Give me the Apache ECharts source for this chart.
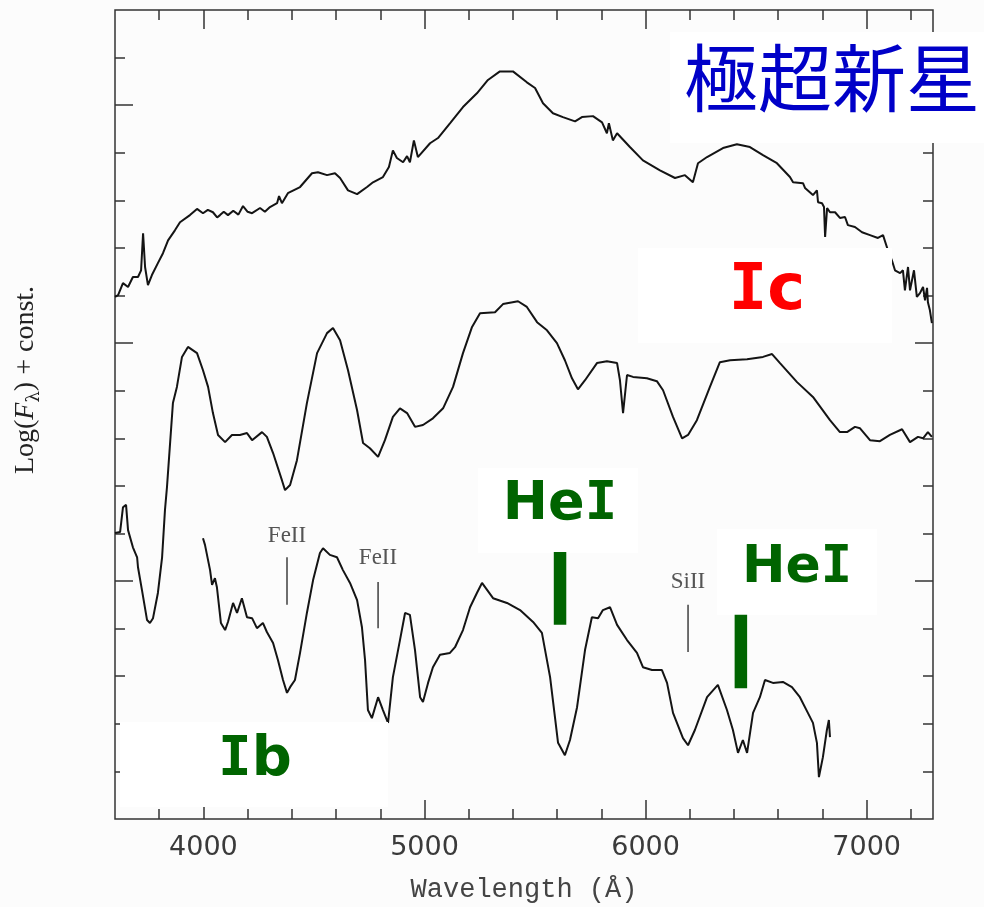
<!DOCTYPE html>
<html>
<head>
<meta charset="utf-8">
<script src="https://cdn.jsdelivr.net/npm/echarts@6/dist/echarts.min.js"></script>
<style>
html,body{margin:0;padding:0;background:#fcfcfc;}
#chart{width:984px;height:907px;}
</style>
</head>
<body>
<div id="chart"></div>
<script>
// ---- Data (wavelength in Å, log flux + const in tick units) ----
const hnWave = [3600,3614,3636,3659,3681,3704,3718,3727,3736,3749,3767,3794,3817,3840,3871,3894,3939,3971,3998,4020,4043,4062,4075,4092,4111,4135,4158,4179,4200,4220,4256,4278,4301,4333,4342,4355,4382,4437,4491,4518,4559,4595,4618,4654,4695,4740,4767,4812,4839,4857,4875,4903,4921,4934,4952,4970,5025,5061,5115,5174,5237,5287,5341,5400,5463,5500,5536,5581,5626,5681,5712,5762,5803,5825,5834,5852,5871,5929,5988,6065,6133,6178,6214,6237,6278,6350,6413,6472,6531,6594,6653,6667,6712,6721,6757,6775,6780,6798,6807,6812,6821,6834,6857,6879,6902,6915,6947,6979,7015,7051,7074,7096,7114,7128,7151,7164,7173,7187,7196,7214,7227,7241,7255,7264,7273,7277,7286,7295];
const hnFlux = [10.97,11.01,11.26,11.18,11.39,11.39,11.53,12.31,11.60,11.22,11.43,11.68,11.89,12.16,12.37,12.54,12.69,12.82,12.73,12.80,12.75,12.64,12.69,12.76,12.69,12.78,12.70,12.88,12.76,12.73,12.84,12.76,12.86,12.94,13.09,12.94,13.15,13.28,13.57,13.59,13.53,13.57,13.47,13.21,13.13,13.28,13.38,13.49,13.70,14.05,13.89,13.80,13.93,13.80,14.26,13.91,14.20,14.31,14.62,14.96,15.25,15.53,15.71,15.71,15.48,15.36,15.04,14.83,14.75,14.66,14.75,14.77,14.64,14.41,14.62,14.26,14.41,14.12,13.84,13.63,13.47,13.53,13.38,13.78,13.91,14.10,14.18,14.12,13.95,13.78,13.49,13.38,13.36,13.26,13.11,13.21,12.96,12.94,12.86,12.23,12.84,12.75,12.75,12.63,12.65,12.48,12.44,12.33,12.27,12.21,12.27,11.95,11.74,11.53,11.47,11.53,11.11,11.60,11.11,11.53,10.97,11.05,11.18,10.90,11.16,10.86,10.69,10.42];

const icWave = [3600,3623,3636,3650,3659,3681,3700,3704,3722,3745,3758,3772,3794,3813,3826,3835,3862,3880,3903,3930,3971,3998,4021,4043,4066,4098,4129,4165,4197,4220,4265,4287,4315,4355,4369,4392,4423,4468,4514,4559,4586,4618,4654,4695,4722,4753,4790,4821,4857,4889,4921,4957,4993,5038,5084,5129,5174,5215,5251,5319,5355,5423,5463,5509,5554,5599,5635,5667,5694,5726,5780,5825,5871,5884,5898,5916,5943,6006,6051,6079,6124,6165,6192,6232,6291,6336,6382,6459,6531,6572,6608,6685,6757,6834,6879,6911,6947,6970,7015,7060,7105,7160,7196,7232,7255,7277,7295];
const icFlux = [6.01,6.03,6.55,6.60,6.07,5.71,5.50,5.29,4.81,4.18,4.12,4.22,4.75,5.50,6.49,6.97,8.74,9.08,9.71,9.92,9.79,9.43,9.08,8.53,8.07,7.92,8.07,8.07,8.11,7.96,8.13,8.03,7.69,7.12,6.91,7.02,7.54,8.74,9.79,10.21,10.32,10.06,9.43,8.59,7.90,7.79,7.61,7.96,8.45,8.63,8.53,8.24,8.28,8.42,8.63,9.08,9.79,10.34,10.63,10.65,10.82,10.88,10.76,10.44,10.27,10.00,9.64,9.26,9.03,9.22,9.58,9.62,9.58,9.22,8.53,9.33,9.29,9.26,9.20,9.01,8.45,8.00,8.07,8.38,9.08,9.60,9.64,9.66,9.71,9.77,9.58,9.18,8.87,8.38,8.13,8.13,8.24,8.21,7.96,7.94,8.07,8.19,7.92,8.03,8.00,8.13,8.03];

const ibWave = [3998,4007,4030,4039,4052,4061,4079,4098,4111,4134,4152,4174,4197,4220,4242,4269,4287,4315,4337,4360,4378,4392,4414,4437,4468,4496,4527,4541,4572,4604,4631,4663,4695,4717,4731,4744,4762,4790,4812,4835,4857,4889,4912,4934,4957,4980,4993,5016,5038,5070,5115,5138,5174,5206,5237,5260,5310,5373,5432,5491,5531,5568,5590,5604,5635,5658,5690,5726,5757,5785,5807,5839,5871,5916,5961,5988,6029,6074,6097,6124,6169,6192,6223,6278,6327,6368,6395,6418,6440,6459,6486,6517,6540,6576,6621,6662,6698,6734,6757,6775,6784,6802,6820,6829,6834];
const ibFlux = [5.90,5.76,5.23,4.92,5.06,4.87,4.12,3.97,4.14,4.54,4.33,4.64,4.24,4.22,4.01,4.12,3.93,3.70,3.34,2.92,2.65,2.77,2.92,3.49,4.33,5.02,5.59,5.69,5.55,5.50,5.23,4.96,4.60,4.03,3.34,2.29,2.12,2.56,2.29,2.02,2.98,3.76,4.33,4.29,3.55,2.56,2.46,2.86,3.19,3.45,3.49,3.61,3.97,4.45,4.75,4.96,4.64,4.54,4.39,4.14,3.91,2.98,2.14,1.60,1.34,1.66,2.35,3.55,4.24,4.22,4.39,4.45,4.08,3.76,3.49,3.19,3.13,3.13,2.86,2.23,1.70,1.55,1.87,2.56,2.82,2.29,1.87,1.39,1.66,1.39,2.23,2.56,2.92,2.86,2.88,2.77,2.56,2.23,2.02,1.60,0.88,1.30,1.87,2.08,1.72];

// line identification marks: wavelength, lower end, upper end
const thinMarkWave = [4378, 4790, 6192];
const thinMarkLow  = [4.50, 4.01, 3.51];
const thinMarkHigh = [5.50, 4.98, 4.50];
const heMarkWave = [5613, 6431];
const heMarkLow  = [4.08, 2.75];
const heMarkHigh = [5.61, 4.29];

// axis ticks
const xMajorTicks = [4000, 5000, 6000, 7000];
const xMinorTicks = [3800,4200,4400,4600,4800,5200,5400,5600,5800,6200,6400,6600,6800,7200];
const yMajorTicks = [5, 10, 15];
const yMinorTicks = [1,2,3,4,6,7,8,9,11,12,13,14,16];

const X_MIN = 3600, X_MAX = 7300, Y_MIN = 0, Y_MAX = 17;

function zip(a, b) { const n = Math.min(a.length, b.length); const r = []; for (let i = 0; i < n; i++) r.push([a[i], b[i]]); return r; }

const axisCol = '#333';
function xAx(pos, ticks, len, labels) {
  return {
    type: 'value', min: X_MIN, max: X_MAX, position: pos,
    axisLine: { show: false, onZero: false },
    splitLine: { show: false },
    axisTick: { show: true, inside: true, length: len, customValues: ticks, lineStyle: { color: axisCol, width: 1.5 } },
    axisLabel: labels ? { show: true, customValues: ticks, margin: 15, color: '#3a3a3a', fontSize: 27, fontFamily: 'DejaVu Sans',
      formatter: function (v) { return String(v); } } : { show: false }
  };
}
function yAx(pos, ticks, len) {
  return {
    type: 'value', min: Y_MIN, max: Y_MAX, position: pos,
    axisLine: { show: false, onZero: false },
    splitLine: { show: false },
    axisTick: { show: true, inside: true, length: len, customValues: ticks, lineStyle: { color: axisCol, width: 1.5 } },
    axisLabel: { show: false }
  };
}

const spectrumStyle = { color: '#141414', width: 2 };
const series = [
  { type: 'line', data: zip(hnWave, hnFlux) },
  { type: 'line', data: zip(icWave, icFlux) },
  { type: 'line', data: zip(ibWave, ibFlux) }
].map(s => Object.assign(s, { showSymbol: false, symbol: 'none', lineStyle: spectrumStyle, silent: true, z: 3 }));

for (let i = 0; i < thinMarkWave.length; i++) {
  series.push({ type: 'line', data: [[thinMarkWave[i], thinMarkLow[i]], [thinMarkWave[i], thinMarkHigh[i]]],
    symbol: 'none', lineStyle: { color: '#4a4a4a', width: 1.6 }, silent: true, z: 3 });
}
for (let i = 0; i < heMarkWave.length; i++) {
  series.push({ type: 'line', data: [[heMarkWave[i], heMarkLow[i]], [heMarkWave[i], heMarkHigh[i]]],
    symbol: 'none', lineStyle: { color: '#006400', width: 12.5, cap: 'butt' }, silent: true, z: 120 });
}

function box(x, y, w, h) { return { type: 'rect', z: 100, shape: { x: x, y: y, width: w, height: h }, style: { fill: '#ffffff' }, silent: true }; }
function label(x, y, text, style) { return { type: 'text', z: 110, x: x, y: y, style: Object.assign({ text: text, align: 'center', verticalAlign: 'middle' }, style), silent: true }; }

const smallLab = { fontFamily: 'Liberation Serif', fontSize: 23, fill: '#555' };
const boldGreen = { fill: '#006400', fontWeight: 'bold', fontFamily: 'DejaVu Sans' };

const chart = echarts.init(document.getElementById('chart'), null, { renderer: 'canvas' });
chart.setOption({
  backgroundColor: '#fcfcfc',
  animation: false,
  grid: { left: 115, right: 51, top: 10, bottom: 88, containLabel: false, outerBoundsMode: 'none',
    show: true, borderColor: axisCol, borderWidth: 1.5, backgroundColor: 'transparent' },
  xAxis: [
    Object.assign(xAx('bottom', xMajorTicks, 19, true), {
      name: 'Wavelength (Å)', nameLocation: 'middle', nameGap: 57,
      nameTextStyle: { fontFamily: 'Liberation Mono', fontSize: 27, color: '#444' }
    }),
    xAx('bottom', xMinorTicks, 10, false),
    xAx('top', xMajorTicks, 19, false),
    xAx('top', xMinorTicks, 10, false)
  ],
  yAxis: [
    yAx('left', yMajorTicks, 18),
    yAx('left', yMinorTicks, 10),
    yAx('right', yMajorTicks, 18),
    yAx('right', yMinorTicks, 10)
  ],
  series: series,
  graphic: [
    box(670, 32, 314, 111),
    label(832, 78, '極超新星', { fontFamily: 'Noto Sans CJK JP', fontSize: 74, fill: '#0000c8' }),
    box(638, 248, 254, 95),
    {
      type: 'text', z: 110, x: 767, y: 292, silent: true,
      style: { text: '{a|I}{b|c}', align: 'center', verticalAlign: 'middle',
        rich: { a: { fontFamily: 'DejaVu Sans Mono', fontWeight: 'bold', fontSize: 64, fill: '#ff0000' },
                b: { fontFamily: 'DejaVu Sans', fontWeight: 'bold', fontSize: 64, fill: '#ff0000' } } }
    },
    box(478, 468, 160, 85),
    {
      type: 'text', z: 110, x: 560, y: 505, silent: true,
      style: { text: '{a|He}{b|I}', align: 'center', verticalAlign: 'middle',
        rich: { a: Object.assign({ fontSize: 54 }, boldGreen), b: Object.assign({}, boldGreen, { fontSize: 54, fontFamily: 'DejaVu Sans Mono' }) } }
    },
    box(717, 529, 160, 86),
    {
      type: 'text', z: 110, x: 797, y: 568, silent: true,
      style: { text: '{a|He}{b|I}', align: 'center', verticalAlign: 'middle',
        rich: { a: Object.assign({ fontSize: 52 }, boldGreen), b: Object.assign({}, boldGreen, { fontSize: 52, fontFamily: 'DejaVu Sans Mono' }) } }
    },
    box(120, 722, 268, 85),
    {
      type: 'text', z: 110, x: 255, y: 760, silent: true,
      style: { text: '{b|I}{a|b}', align: 'center', verticalAlign: 'middle',
        rich: { a: Object.assign({ fontSize: 56 }, boldGreen), b: Object.assign({}, boldGreen, { fontSize: 56, fontFamily: 'DejaVu Sans Mono' }) } }
    },
    label(287, 536, 'FeII', smallLab),
    label(378, 558, 'FeII', smallLab),
    label(688, 582, 'SiII', smallLab),
    {
      type: 'text', z: 110, x: 26, y: 380, rotation: Math.PI / 2, silent: true,
      style: { text: '{a|Log(}{i|F}{s|λ}{a|) + const.}', align: 'center', verticalAlign: 'middle',
        rich: {
          a: { fontFamily: 'Liberation Serif', fontSize: 28, fill: '#222', lineHeight: 34 },
          i: { fontFamily: 'Liberation Serif', fontStyle: 'italic', fontSize: 28, fill: '#222', lineHeight: 34 },
          s: { fontFamily: 'DejaVu Serif', fontSize: 18, fill: '#222', lineHeight: 18, verticalAlign: 'bottom' }
        } }
    }
  ]
});
</script>
</body>
</html>
